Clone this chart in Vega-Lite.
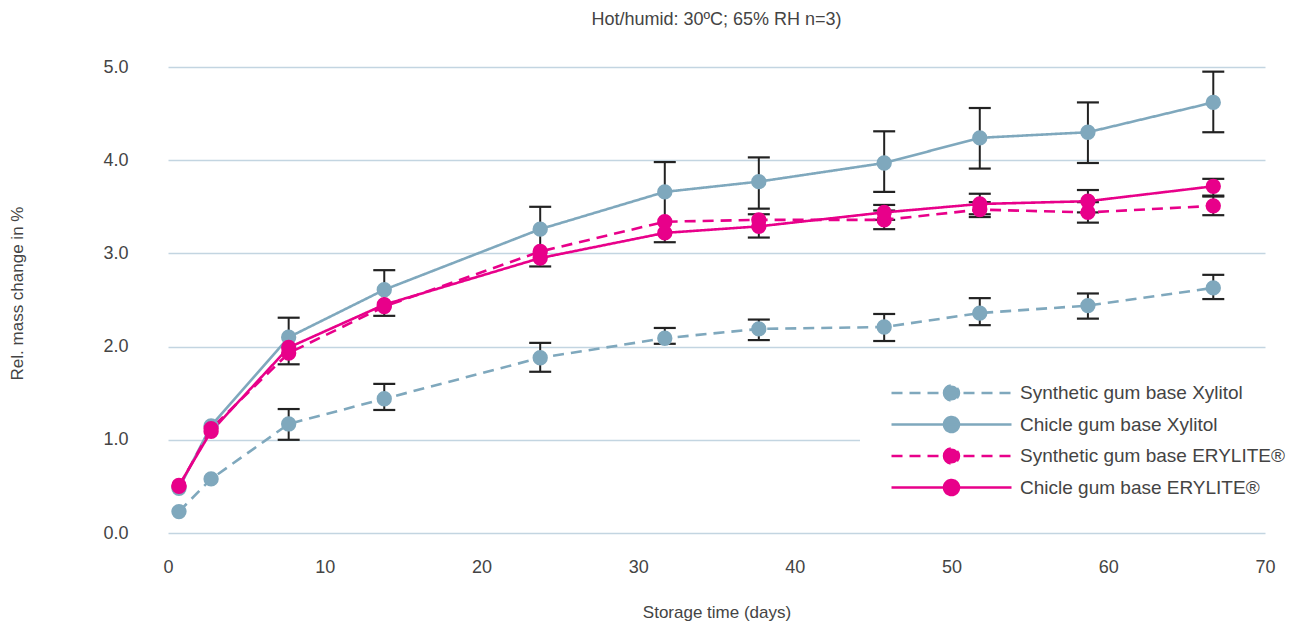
{
  "$schema": "https://vega.github.io/schema/vega-lite/v6.json",
  "width": 1097,
  "height": 466,
  "autosize": {"type": "none"},
  "padding": {"left": 168, "top": 67, "right": 26, "bottom": 93},
  "background": "white",
  "title": {
    "text": "Hot/humid: 30ºC; 65% RH n=3)",
    "anchor": "middle",
    "frame": "group",
    "fontSize": 18,
    "font": "Liberation Sans",
    "fontWeight": "normal",
    "color": "#444444",
    "offset": 29
  },
  "data": {
    "values": [
      {"series": "Synthetic gum base Xylitol", "day": 0.7, "value": 0.23},
      {"series": "Synthetic gum base Xylitol", "day": 2.75, "value": 0.58},
      {"series": "Synthetic gum base Xylitol", "day": 7.7, "value": 1.17, "lo": 1.0, "hi": 1.33},
      {"series": "Synthetic gum base Xylitol", "day": 13.8, "value": 1.44, "lo": 1.32, "hi": 1.6},
      {"series": "Synthetic gum base Xylitol", "day": 23.75, "value": 1.88, "lo": 1.73, "hi": 2.04},
      {"series": "Synthetic gum base Xylitol", "day": 31.7, "value": 2.09, "lo": 2.03, "hi": 2.2},
      {"series": "Synthetic gum base Xylitol", "day": 37.7, "value": 2.19, "lo": 2.07, "hi": 2.29},
      {"series": "Synthetic gum base Xylitol", "day": 45.7, "value": 2.21, "lo": 2.06, "hi": 2.35},
      {"series": "Synthetic gum base Xylitol", "day": 51.8, "value": 2.36, "lo": 2.23, "hi": 2.52},
      {"series": "Synthetic gum base Xylitol", "day": 58.7, "value": 2.44, "lo": 2.3, "hi": 2.57},
      {"series": "Synthetic gum base Xylitol", "day": 66.7, "value": 2.63, "lo": 2.51, "hi": 2.77},
      {"series": "Chicle gum base Xylitol", "day": 0.7, "value": 0.48},
      {"series": "Chicle gum base Xylitol", "day": 2.75, "value": 1.15},
      {"series": "Chicle gum base Xylitol", "day": 7.7, "value": 2.1, "lo": 1.81, "hi": 2.31},
      {"series": "Chicle gum base Xylitol", "day": 13.8, "value": 2.61, "lo": 2.33, "hi": 2.82},
      {"series": "Chicle gum base Xylitol", "day": 23.75, "value": 3.26, "lo": 2.86, "hi": 3.5},
      {"series": "Chicle gum base Xylitol", "day": 31.7, "value": 3.66, "lo": 3.12, "hi": 3.98},
      {"series": "Chicle gum base Xylitol", "day": 37.7, "value": 3.77, "lo": 3.48, "hi": 4.03},
      {"series": "Chicle gum base Xylitol", "day": 45.7, "value": 3.97, "lo": 3.66, "hi": 4.31},
      {"series": "Chicle gum base Xylitol", "day": 51.8, "value": 4.24, "lo": 3.91, "hi": 4.56},
      {"series": "Chicle gum base Xylitol", "day": 58.7, "value": 4.3, "lo": 3.97, "hi": 4.62},
      {"series": "Chicle gum base Xylitol", "day": 66.7, "value": 4.62, "lo": 4.3, "hi": 4.95},
      {"series": "Synthetic gum base ERYLITE®", "day": 0.7, "value": 0.5},
      {"series": "Synthetic gum base ERYLITE®", "day": 2.75, "value": 1.12},
      {"series": "Synthetic gum base ERYLITE®", "day": 7.7, "value": 1.93},
      {"series": "Synthetic gum base ERYLITE®", "day": 13.8, "value": 2.43},
      {"series": "Synthetic gum base ERYLITE®", "day": 23.75, "value": 3.02},
      {"series": "Synthetic gum base ERYLITE®", "day": 31.7, "value": 3.34},
      {"series": "Synthetic gum base ERYLITE®", "day": 37.7, "value": 3.36},
      {"series": "Synthetic gum base ERYLITE®", "day": 45.7, "value": 3.36, "lo": 3.26, "hi": 3.46},
      {"series": "Synthetic gum base ERYLITE®", "day": 51.8, "value": 3.47, "lo": 3.39, "hi": 3.55},
      {"series": "Synthetic gum base ERYLITE®", "day": 58.7, "value": 3.44, "lo": 3.33, "hi": 3.55},
      {"series": "Synthetic gum base ERYLITE®", "day": 66.7, "value": 3.51, "lo": 3.41, "hi": 3.61},
      {"series": "Chicle gum base ERYLITE®", "day": 0.7, "value": 0.51},
      {"series": "Chicle gum base ERYLITE®", "day": 2.75, "value": 1.09},
      {"series": "Chicle gum base ERYLITE®", "day": 7.7, "value": 1.99},
      {"series": "Chicle gum base ERYLITE®", "day": 13.8, "value": 2.45},
      {"series": "Chicle gum base ERYLITE®", "day": 23.75, "value": 2.95},
      {"series": "Chicle gum base ERYLITE®", "day": 31.7, "value": 3.22},
      {"series": "Chicle gum base ERYLITE®", "day": 37.7, "value": 3.29, "lo": 3.17, "hi": 3.42},
      {"series": "Chicle gum base ERYLITE®", "day": 45.7, "value": 3.44, "lo": 3.36, "hi": 3.52},
      {"series": "Chicle gum base ERYLITE®", "day": 51.8, "value": 3.53, "lo": 3.42, "hi": 3.64},
      {"series": "Chicle gum base ERYLITE®", "day": 58.7, "value": 3.56, "lo": 3.44, "hi": 3.68},
      {"series": "Chicle gum base ERYLITE®", "day": 66.7, "value": 3.72, "lo": 3.62, "hi": 3.8}
    ]
  },
  "encoding": {
    "x": {
      "field": "day",
      "type": "quantitative",
      "title": "Storage time (days)",
      "scale": {"domain": [0, 70], "nice": false, "zero": false},
      "axis": {
        "values": [0, 10, 20, 30, 40, 50, 60, 70],
        "format": "d",
        "grid": false,
        "domain": false,
        "ticks": false,
        "labelFlush": false,
        "labelPadding": 25,
        "titlePadding": 28
      }
    }
  },
  "layer": [
    {
      "transform": [{"filter": "isValid(datum.lo)"}],
      "mark": {"type": "rule", "color": "#222222", "strokeWidth": 2},
      "encoding": {
        "y": {"field": "lo", "type": "quantitative"},
        "y2": {"field": "hi"}
      }
    },
    {
      "transform": [{"filter": "isValid(datum.lo)"}],
      "mark": {"type": "tick", "orient": "horizontal", "color": "#222222", "size": 22, "thickness": 2.2, "opacity": 1},
      "encoding": {"y": {"field": "hi", "type": "quantitative"}}
    },
    {
      "transform": [{"filter": "isValid(datum.lo)"}],
      "mark": {"type": "tick", "orient": "horizontal", "color": "#222222", "size": 22, "thickness": 2.2, "opacity": 1},
      "encoding": {"y": {"field": "lo", "type": "quantitative"}}
    },
    {
      "mark": {"type": "line", "strokeWidth": 2.6},
      "encoding": {
        "y": {
          "field": "value",
          "type": "quantitative",
          "title": "Rel. mass change in %",
          "scale": {"domain": [0, 5], "nice": false},
          "axis": {
            "values": [0, 1, 2, 3, 4, 5],
            "format": ".1f",
            "grid": true,
            "domain": false,
            "ticks": false,
            "labelPadding": 40,
            "titleX": -142,
            "titleY": 226
          }
        },
        "color": {
          "field": "series",
          "type": "nominal",
          "title": null,
          "scale": {
            "domain": ["Synthetic gum base Xylitol", "Chicle gum base Xylitol", "Synthetic gum base ERYLITE®", "Chicle gum base ERYLITE®"],
            "range": ["#7fa8bd", "#7fa8bd", "#e8008a", "#e8008a"]
          },
          "legend": {
            "encode": {
              "symbols": {
                "update": {
                  "fill": {"scale": "color", "field": "value"},
                  "stroke": {"scale": "color", "field": "value"},
                  "opacity": {"value": 1}
                }
              }
            }
          }
        },
        "strokeDash": {
          "field": "series",
          "type": "nominal",
          "title": null,
          "scale": {
            "domain": ["Synthetic gum base Xylitol", "Chicle gum base Xylitol", "Synthetic gum base ERYLITE®", "Chicle gum base ERYLITE®"],
            "range": [[11, 7], [1, 0], [11, 7], [1, 0]]
          }
        }
      }
    },
    {
      "mark": {"type": "point", "filled": true, "size": 235, "opacity": 1},
      "encoding": {
        "y": {"field": "value", "type": "quantitative"},
        "color": {"field": "series", "type": "nominal", "title": null}
      }
    }
  ],
  "config": {
    "view": {"stroke": null},
    "font": "Liberation Sans",
    "axis": {
      "labelFont": "Liberation Sans",
      "labelFontSize": 18,
      "labelColor": "#444444",
      "titleFont": "Liberation Sans",
      "titleFontSize": 17,
      "titleFontWeight": "normal",
      "titleColor": "#444444",
      "gridColor": "#c3d5e1",
      "gridWidth": 1.3
    },
    "legend": {
      "orient": "none",
      "legendX": 692,
      "legendY": 286,
      "padding": 30,
      "fillColor": "white",
      "clipHeight": 20,
      "rowPadding": 11.5,
      "symbolType": "M-1,0H1M-0.125,0A0.125,0.125,0,1,1,0.125,0A0.125,0.125,0,1,1,-0.125,0Z",
      "symbolSize": 14400,
      "symbolStrokeWidth": 2.5,
      "labelFont": "Liberation Sans",
      "labelFontSize": 19,
      "labelColor": "#444444",
      "labelOffset": 7,
      "labelLimit": 400
    }
  }
}
